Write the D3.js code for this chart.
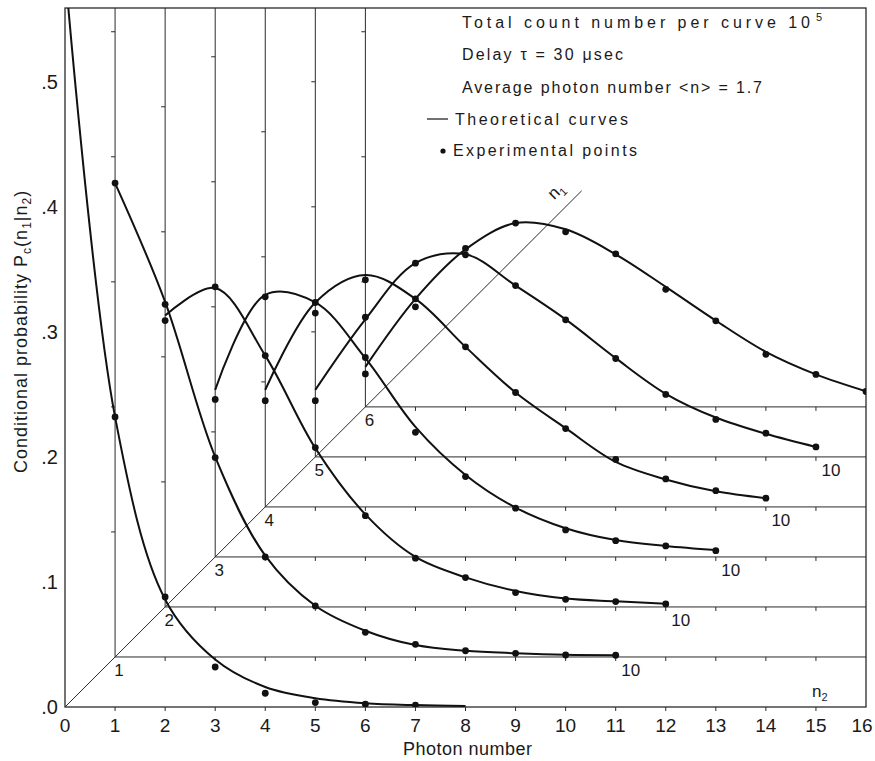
<!DOCTYPE html>
<html>
<head>
<meta charset="utf-8">
<script src="https://cdn.jsdelivr.net/npm/d3@7"></script>
<style>
  body { margin: 0; background: #fff; }
  text { font-family: 'Liberation Sans', Arial, sans-serif; fill: #1a1a1a; }
</style>
</head>
<body>
<div id="wrapper"></div>
<script>
'use strict';

//#region DATASET
const xTicks = [0, 1, 2, 3, 4, 5, 6, 7, 8, 9, 10, 11, 12, 13, 14, 15, 16];
const yTicks = [0, 0.1, 0.2, 0.3, 0.4, 0.5];
const yTickLabels = ['.0', '.1', '.2', '.3', '.4', '.5'];
const n1Values = [0, 1, 2, 3, 4, 5, 6];
const n2Steps = [0, 1, 2, 3, 4, 5, 6, 7, 8, 9, 10];

// n1 = 0 (drawn on the n2 axis itself)
const theoryN2_0 = [0, 1, 2, 3, 4, 5, 6, 7, 8];
const theory0 = [0.59, 0.232, 0.086, 0.038, 0.016, 0.007, 0.003, 0.0015, 0.0008];
const expN2_0 = [1, 2, 3, 4, 5, 6, 7];
const exp0 = [0.232, 0.088, 0.032, 0.011, 0.0035, 0.0022, 0.0015];

// n1 = 1..6, n2 = 0..10 (probability measured from each curve's own baseline)
const theory1 = [0.379, 0.284, 0.160, 0.081, 0.041, 0.021, 0.0095, 0.005, 0.003, 0.0017, 0.0014];
const theory2 = [0.233, 0.255, 0.201, 0.127, 0.074, 0.040, 0.0237, 0.0128, 0.0067, 0.0045, 0.0026];
const theory3 = [0.1336, 0.2096, 0.2035, 0.159, 0.104, 0.0656, 0.0395, 0.023, 0.0135, 0.0088, 0.0055];
const theory4 = [0.0936, 0.1635, 0.1855, 0.1664, 0.128, 0.0915, 0.063, 0.036, 0.022, 0.0125, 0.007];
const theory5 = [0.0536, 0.110, 0.155, 0.162, 0.137, 0.110, 0.079, 0.0505, 0.0315, 0.0185, 0.008];
const theory6 = [0.032, 0.0864, 0.126, 0.147, 0.142, 0.122, 0.096, 0.069, 0.044, 0.026, 0.0125];

const exp1 = [0.379, 0.282, 0.1595, 0.080, 0.0408, 0.0197, 0.0101, 0.005, 0.0029, 0.0016, 0.0014];
const exp2 = [0.229, 0.256, 0.201, 0.1275, 0.073, 0.039, 0.0235, 0.0115, 0.0061, 0.0043, 0.0024];
const exp3 = [0.126, 0.208, 0.2035, 0.1595, 0.0997, 0.0643, 0.039, 0.0216, 0.013, 0.0088, 0.005];
const exp4 = [0.085, 0.155, 0.1816, 0.1664, 0.128, 0.0915, 0.0627, 0.038, 0.0224, 0.013, 0.007];
const exp5 = [0.045, 0.1117, 0.1549, 0.1616, 0.137, 0.1096, 0.0787, 0.050, 0.030, 0.019, 0.008];
const exp6 = [0.0264, 0.080, 0.1267, 0.147, 0.140, 0.1224, 0.094, 0.0688, 0.042, 0.026, 0.0123];

const infoLines = [
  'Delay \u03C4 = 30 \u03BCsec',
  'Average photon number <n> = 1.7'
];
//#endregion DATASET

//#region CHART DIMENSIONS
const dimensions = { width: 875, height: 761 };
const depthStep = 0.04; // each n1 curve is lifted by this much and moved one photon right
const yMax = 0.559;
const diagonalEnd = 10.32;
//#endregion CHART DIMENSIONS

//#region DRAW CANVAS
const wrapper = d3.select('#wrapper').append('svg')
  .attr('width', dimensions.width)
  .attr('height', dimensions.height);

const xScale = d3.scaleLinear().domain([0, 16]).range([65, 866]);
const yScale = d3.scaleLinear().domain([0, yMax]).range([707, 8]);

wrapper.append('clipPath').attr('id', 'frame')
  .append('rect')
  .attr('x', xScale(0)).attr('y', yScale(yMax))
  .attr('width', xScale(16) - xScale(0))
  .attr('height', yScale(0) - yScale(yMax));
//#endregion DRAW CANVAS

//#region DRAW GRID
const grid = wrapper.append('g')
  .attr('stroke', '#2a2a2a')
  .attr('stroke-width', 1)
  .attr('fill', 'none');

grid.append('rect')
  .attr('x', xScale(0)).attr('y', yScale(yMax))
  .attr('width', xScale(16) - xScale(0))
  .attr('height', yScale(0) - yScale(yMax))
  .attr('stroke-width', 1.3);

const levels = n1Values.filter(k => k > 0);

grid.selectAll('.base').data(levels).enter().append('line')
  .attr('x1', k => xScale(k)).attr('x2', xScale(16))
  .attr('y1', k => yScale(k * depthStep)).attr('y2', k => yScale(k * depthStep));

grid.selectAll('.post').data(levels).enter().append('line')
  .attr('x1', k => xScale(k)).attr('x2', k => xScale(k))
  .attr('y1', k => yScale(k * depthStep)).attr('y2', yScale(yMax));

grid.append('line')
  .attr('x1', xScale(0)).attr('y1', yScale(0))
  .attr('x2', xScale(diagonalEnd)).attr('y2', yScale(diagonalEnd * depthStep));

// little ticks hanging under every baseline
const baseTicks = [];
n1Values.forEach(k => {
  xTicks.filter(i => i > k && i < 16).forEach(i => baseTicks.push({ k, i }));
});
grid.selectAll('.btick').data(baseTicks).enter().append('line')
  .attr('x1', d => xScale(d.i)).attr('x2', d => xScale(d.i))
  .attr('y1', d => yScale(d.k * depthStep)).attr('y2', d => yScale(d.k * depthStep) + 4);

// ticks on the left of each vertical post, every .1 above its baseline
const postTicks = [];
levels.forEach(k => {
  yTicks.filter(v => v > 0 && v + k * depthStep < yMax).forEach(v => postTicks.push({ k, v }));
});
grid.selectAll('.ptick').data(postTicks).enter().append('line')
  .attr('x1', d => xScale(d.k) - 4).attr('x2', d => xScale(d.k))
  .attr('y1', d => yScale(d.v + d.k * depthStep)).attr('y2', d => yScale(d.v + d.k * depthStep));
//#endregion DRAW GRID

//#region DRAW DATA
const theories = [theory1, theory2, theory3, theory4, theory5, theory6];
const experiments = [exp1, exp2, exp3, exp4, exp5, exp6];

const curves = [{
  n1: 0,
  theory: theoryN2_0.map((n2, i) => ({ n2, p: theory0[i] })),
  points: expN2_0.map((n2, i) => ({ n2, p: exp0[i] }))
}].concat(levels.map((k, idx) => ({
  n1: k,
  theory: n2Steps.map((n2, i) => ({ n2, p: theories[idx][i] })),
  points: n2Steps.map((n2, i) => ({ n2, p: experiments[idx][i] }))
})));

const plot = wrapper.append('g').attr('clip-path', 'url(#frame)');

const lineGenerator = n1 => d3.line()
  .x(d => xScale(n1 + d.n2))
  .y(d => yScale(n1 * depthStep + d.p))
  .curve(d3.curveCatmullRom.alpha(0.5));

curves.forEach(c => {
  plot.append('path')
    .attr('d', lineGenerator(c.n1)(c.theory))
    .attr('fill', 'none')
    .attr('stroke', '#111')
    .attr('stroke-width', 2);

  plot.selectAll(null).data(c.points).enter().append('circle')
    .attr('cx', d => xScale(c.n1 + d.n2))
    .attr('cy', d => yScale(c.n1 * depthStep + d.p))
    .attr('r', 3.4)
    .attr('fill', '#111');
});
//#endregion DRAW DATA

//#region DRAW PERIPHERALS
const labels = wrapper.append('g');

labels.selectAll('.xtick').data(xTicks).enter().append('text')
  .attr('x', d => xScale(d) - (d === 16 ? 4 : 0))
  .attr('y', 732)
  .attr('text-anchor', 'middle')
  .style('font-size', '19px')
  .text(d => d);

labels.selectAll('.ytick').data(yTicks).enter().append('text')
  .attr('x', 58)
  .attr('y', d => yScale(d))
  .attr('dy', '0.35em')
  .attr('text-anchor', 'end')
  .style('font-size', '20px')
  .text((d, i) => yTickLabels[i]);

// n1 numbers along the diagonal
labels.selectAll('.diag').data(levels).enter().append('text')
  .attr('x', k => xScale(k) + 4)
  .attr('y', k => yScale(k * depthStep) + 13)
  .attr('dy', '0.35em')
  .attr('text-anchor', 'middle')
  .style('font-size', '17px')
  .text(k => k);

// n2 = 10 marks at the end of the curves
labels.selectAll('.ten').data(levels.filter(k => k + 10 < 16)).enter().append('text')
  .attr('x', k => xScale(k + 10) + 15)
  .attr('y', k => yScale(k * depthStep) + 13)
  .attr('dy', '0.35em')
  .attr('text-anchor', 'middle')
  .style('font-size', '17px')
  .text(n2Steps[10]);

const n1Label = labels.append('text')
  .attr('transform', `translate(${xScale(diagonalEnd) - 22},${yScale(diagonalEnd * depthStep) + 4}) rotate(-45)`)
  .attr('text-anchor', 'middle')
  .style('font-size', '17px');
n1Label.append('tspan').text('n');
n1Label.append('tspan').attr('dy', 4).style('font-size', '11px').text('1');

const n2Label = labels.append('text')
  .attr('x', 812).attr('y', 697)
  .style('font-size', '17px');
n2Label.append('tspan').text('n');
n2Label.append('tspan').attr('dy', 4).style('font-size', '11px').text('2');

labels.append('text')
  .attr('x', 403).attr('y', 755)
  .style('font-size', '18px')
  .style('letter-spacing', '0.5px')
  .text('Photon number');

const yTitle = labels.append('text')
  .attr('transform', 'translate(27,473) rotate(-90)')
  .style('font-size', '18px')
  .style('letter-spacing', '1px');
yTitle.append('tspan').text('Conditional probability P');
yTitle.append('tspan').attr('dy', 4).style('font-size', '12px').text('c');
yTitle.append('tspan').attr('dy', -4).text('(n');
yTitle.append('tspan').attr('dy', 4).style('font-size', '12px').text('1');
yTitle.append('tspan').attr('dy', -4).text('|n');
yTitle.append('tspan').attr('dy', 4).style('font-size', '12px').text('2');
yTitle.append('tspan').attr('dy', -4).text(')');

// description block
const info = labels.append('g').style('font-size', '16px');
const first = info.append('text').attr('x', 462).attr('y', 28);
first.append('tspan')
  .attr('textLength', 348).attr('lengthAdjust', 'spacing')
  .text('Total count number per curve 10');
first.append('tspan').attr('dx', 2).attr('dy', -7).style('font-size', '11px').text('5');

info.append('text').attr('x', 462).attr('y', 60)
  .attr('textLength', 161).attr('lengthAdjust', 'spacing')
  .text(infoLines[0]);
info.append('text').attr('x', 462).attr('y', 93)
  .attr('textLength', 300).attr('lengthAdjust', 'spacing')
  .text(infoLines[1]);

info.append('line')
  .attr('x1', 427).attr('x2', 448).attr('y1', 119).attr('y2', 119)
  .attr('stroke', '#111').attr('stroke-width', 1.2);
info.append('text').attr('x', 455).attr('y', 125)
  .attr('textLength', 173).attr('lengthAdjust', 'spacing')
  .text('Theoretical curves');

info.append('circle').attr('cx', 443).attr('cy', 151).attr('r', 2.6).attr('fill', '#111');
info.append('text').attr('x', 453).attr('y', 156)
  .attr('textLength', 184).attr('lengthAdjust', 'spacing')
  .text('Experimental points');
//#endregion DRAW PERIPHERALS
</script>
</body>
</html>
